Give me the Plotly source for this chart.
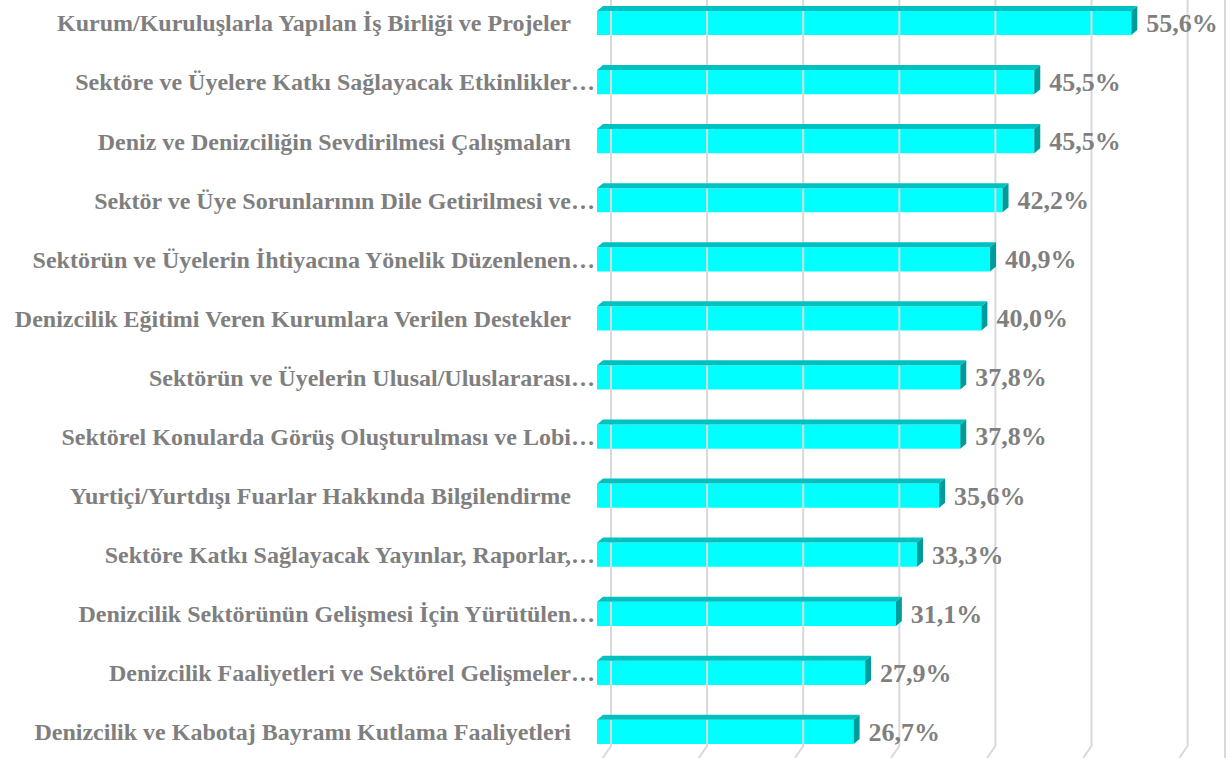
import plotly.graph_objects as go

labels = [
    "Kurum/Kuruluşlarla Yapılan İş Birliği ve Projeler",
    "Sektöre ve Üyelere Katkı Sağlayacak Etkinlikler…",
    "Deniz ve Denizciliğin Sevdirilmesi Çalışmaları",
    "Sektör ve Üye Sorunlarının Dile Getirilmesi ve…",
    "Sektörün ve Üyelerin İhtiyacına Yönelik Düzenlenen…",
    "Denizcilik Eğitimi Veren Kurumlara Verilen Destekler",
    "Sektörün ve Üyelerin Ulusal/Uluslararası…",
    "Sektörel Konularda Görüş Oluşturulması ve Lobi…",
    "Yurtiçi/Yurtdışı Fuarlar Hakkında Bilgilendirme",
    "Sektöre Katkı Sağlayacak Yayınlar, Raporlar,…",
    "Denizcilik Sektörünün Gelişmesi İçin Yürütülen…",
    "Denizcilik Faaliyetleri ve Sektörel Gelişmeler…",
    "Denizcilik ve Kabotaj Bayramı Kutlama Faaliyetleri",
]
values = [55.6, 45.5, 45.5, 42.2, 40.9, 40.0, 37.8, 37.8, 35.6, 33.3, 31.1, 27.9, 26.7]
grid_ticks = [0, 10, 20, 30, 40, 50, 60]

# layout / style constants
W, H = 1231, 758
ML, MR = 597, 6
PX_PER_UNIT = 9.61
XMAX = (W - ML - MR) / PX_PER_UNIT
CAT_PX = 59.08
Y_TOP = -23 / CAT_PX
Y_BOT = Y_TOP + H / CAT_PX
BAR_W = 0.41
DX = 6 / PX_PER_UNIT       # bar depth (x)
DY = 5 / CAT_PX            # bar depth (y, upward)
GDX = 14 / PX_PER_UNIT     # wall offset
Y_BEND = Y_TOP + 746 / CAT_PX
LBL_GAP = 9 / PX_PER_UNIT

FRONT = "#00FFFF"
TOP = "#00C0C0"
SIDE = "#009C9C"
GRID = "#D9D9D9"
TXT = "#7F7F7F"
FONT = "Liberation Serif"

ys = list(range(len(values)))

def disp(lbl):
    return lbl if lbl.endswith("…") else lbl + "\u00a0" * 4

fig = go.Figure()

# gridlines on back wall with floor bend
gx, gy = [], []
for t in grid_ticks:
    gx += [t + GDX, t + GDX, t + GDX * 0.4, None]
    gy += [Y_TOP, Y_BEND, Y_BOT, None]
fig.add_trace(go.Scatter(x=gx, y=gy, mode="lines", line=dict(color=GRID, width=2),
                         hoverinfo="skip", showlegend=False))

# front faces
fig.add_trace(go.Bar(x=values, y=ys, orientation="h", width=BAR_W,
                     marker=dict(color=FRONT, line=dict(width=0)),
                     showlegend=False))

# top faces
tx, ty = [], []
for v, y in zip(values, ys):
    y0 = y - BAR_W / 2
    tx += [0, v, v + DX, DX, 0, None]
    ty += [y0, y0, y0 - DY, y0 - DY, y0, None]
fig.add_trace(go.Scatter(x=tx, y=ty, mode="lines", fill="toself", fillcolor=TOP,
                         line=dict(width=0, color=TOP), hoverinfo="skip", showlegend=False))

# side faces
sx, sy = [], []
for v, y in zip(values, ys):
    y0, y1 = y - BAR_W / 2, y + BAR_W / 2
    sx += [v, v + DX, v + DX, v, v, None]
    sy += [y0, y0 - DY, y1 - DY, y1, y0, None]
fig.add_trace(go.Scatter(x=sx, y=sy, mode="lines", fill="toself", fillcolor=SIDE,
                         line=dict(width=0, color=SIDE), hoverinfo="skip", showlegend=False))

# value labels
fig.add_trace(go.Scatter(
    x=[v + DX + LBL_GAP for v in values], y=[y + 0.04 for y in ys], mode="text",
    text=[f"{v:.1f}".replace(".", ",") + "%" for v in values],
    textposition="middle right",
    textfont=dict(family=FONT, size=26, color=TXT, weight="bold"),
    hoverinfo="skip", showlegend=False))

fig.update_layout(
    width=W, height=H,
    margin=dict(l=ML, r=MR, t=0, b=0, pad=0),
    plot_bgcolor="white", paper_bgcolor="white",
    xaxis=dict(range=[0, XMAX], showgrid=False, zeroline=False, showticklabels=False,
               showline=False, fixedrange=True),
    yaxis=dict(range=[Y_BOT, Y_TOP], tickmode="array", tickvals=ys,
               ticktext=[disp(l) for l in labels], showgrid=False, zeroline=False,
               showline=False, ticks="", ticklabelstandoff=1, fixedrange=True,
               tickfont=dict(family=FONT, size=24, color=TXT, weight="bold")),
    shapes=[dict(type="line", xref="paper", yref="paper", x0=1, x1=1, y0=0, y1=1,
                 line=dict(color=GRID, width=2))],
)

fig.write_html("out.html", config={"displayModeBar": False},
               post_script="document.body.style.margin='0';document.body.style.overflow='hidden';")
